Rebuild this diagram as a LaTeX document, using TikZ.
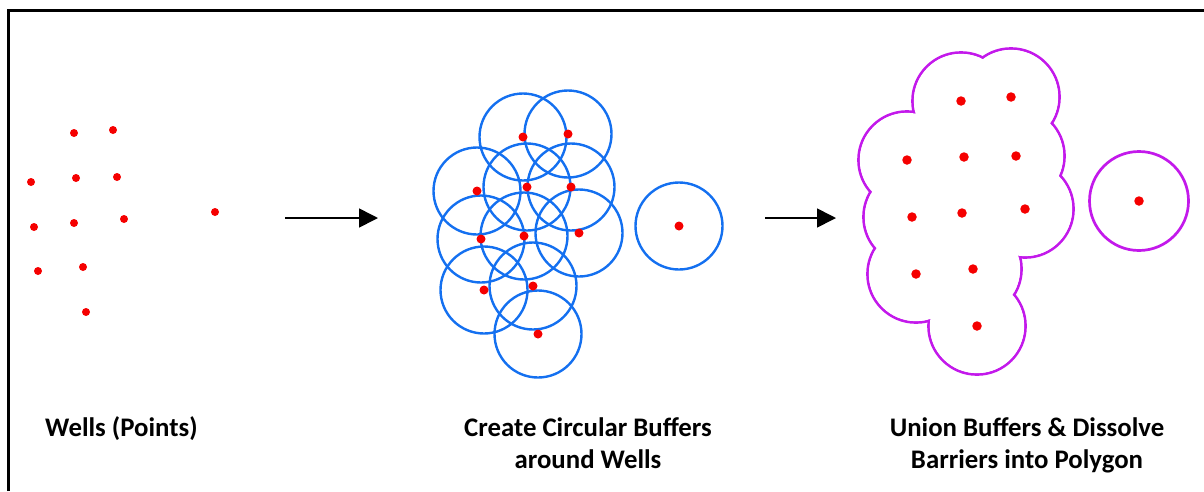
\documentclass[tikz,border=0pt]{standalone}
\usepackage{fontspec}
\setmainfont{Carlito}
\usetikzlibrary{arrows.meta}
\definecolor{bufblue}{RGB}{20,112,240}
\definecolor{unionmag}{RGB}{195,25,235}
\definecolor{wellred}{RGB}{245,0,0}
\begin{document}
\begin{tikzpicture}[x=1pt,y=-1pt,
  well/.style={circle,fill=wellred,inner sep=0pt,minimum size=8.5pt},
  buffer/.style={circle,draw=bufblue,line width=2.4pt,minimum size=87pt,inner sep=0pt},
  unionline/.style={draw=unionmag,line width=2.7pt},
  flow/.style={line width=1.6pt,-{Triangle[length=19pt,width=19pt]}},
  lbl/.style={font=\fontsize{26.8}{31.5}\selectfont\bfseries,inner sep=0pt}]
\useasboundingbox (0,0) rectangle (1204,491);
% frame
\coordinate (fbl) at (8.7,491);
\coordinate (ftl) at (8.7,10.5);
\coordinate (ftr) at (1204,10.5);
\draw[line width=2.6pt] (fbl) -- (ftl) -- (ftr);
% wells
\foreach \n/\x/\y in {1/74/133, 2/113/130, 3/31/182, 4/76/178, 5/117/177, 6/34/227, 7/74/223, 8/124/219, 9/215/212, 10/38/271, 11/83/267, 12/86/312}
  \node[well,minimum size=8pt] (w\n) at (\x,\y) {};
% buffers
\foreach \n/\x/\y in {1/523/137, 2/568/134, 3/477/191, 4/527/187, 5/571/187, 6/579/233, 7/481/239, 8/524/236, 9/484/290, 10/533/286, 11/538/334, 12/679/226}
  \node[buffer] (b\n) at (\x,\y) {};
\foreach \n in {1,...,12}
  \node[well,minimum size=9pt] (bw\n) at (b\n.center) {};
% union
\foreach \x/\y in {961/101, 1011/97, 907/160, 964/157, 1016/156, 912/217, 962/213, 1025/209, 916/274, 973/269, 977/326}
  \draw[unionline] (\x,\y) circle[radius=48.5pt];
\foreach \x/\y in {961/101, 1011/97, 907/160, 964/157, 1016/156, 912/217, 962/213, 1025/209, 916/274, 973/269, 977/326}
  \fill[white] (\x,\y) circle[radius=47.15pt];
\draw[unionline] (1139,201) circle[radius=49.5pt];
\foreach \n/\x/\y in {1/961/101, 2/1011/97, 3/907/160, 4/964/157, 5/1016/156, 6/912/217, 7/962/213, 8/1025/209, 9/916/274, 10/973/269, 11/977/326, 12/1139/201}
  \node[well,minimum size=9.5pt] (u\n) at (\x,\y) {};
% arrows
\coordinate (a1s) at (285,218);
\coordinate (a1e) at (378,218);
\coordinate (a2s) at (765,218);
\coordinate (a2e) at (836,218);
\draw[flow] (a1s) -- (a1e);
\draw[flow] (a2s) -- (a2e);
% labels
\node[lbl,anchor=base west] (t1) at (45,436) {Wells (Points)};
\node[lbl,anchor=base] (t2) at (588,436.5) {\begin{tabular}[t]{@{}c@{}}Create Circular Buffers\\around Wells\end{tabular}};
\node[lbl,anchor=base] (t3) at (1027,436.5) {\begin{tabular}[t]{@{}c@{}}Union Buffers \& Dissolve\\Barriers into Polygon\end{tabular}};
\end{tikzpicture}
\end{document}
